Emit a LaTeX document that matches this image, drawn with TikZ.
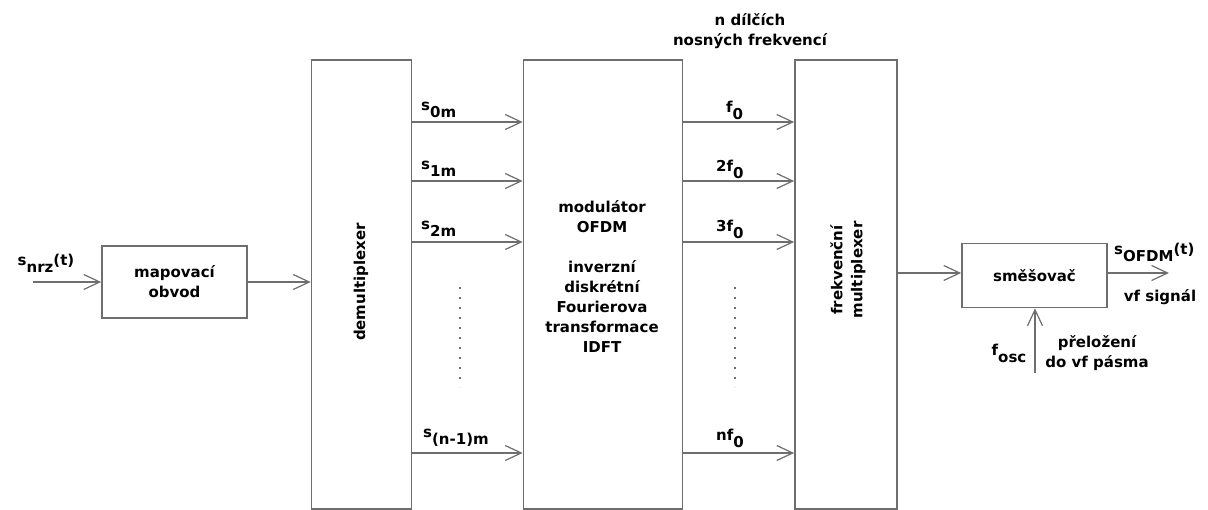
\documentclass[tikz,border=0pt]{standalone}
\usepackage{fontspec}
\setmainfont{DejaVu Sans}[BoldFont=DejaVu Sans Bold]
\usetikzlibrary{arrows.meta}
\definecolor{linegray}{RGB}{110,110,110}
\newcommand\lowsub[1]{\raisebox{-7pt}{#1}}
\begin{document}
\begin{tikzpicture}[x=1pt,y=-1pt,
  box/.style={draw=linegray, line width=1.7pt, inner sep=0pt, align=center,
    font=\fontsize{15}{20}\selectfont\bfseries},
  arr/.style={draw=linegray, line width=1.9pt,
    -{Straight Barb[length=16pt,width=15pt,line width=1.2pt]}},
  lbl/.style={font=\fontsize{15}{20}\selectfont\bfseries, text=black, inner sep=0pt, align=center},
  dots/.style={draw=linegray, line width=2.2pt, dash pattern=on 2.2pt off 7.8pt},
]
\useasboundingbox (0,0) rectangle (1208,510);
% blocks
\node[box, minimum width=145, minimum height=72] (map) at (174.5,282) {mapovací\\obvod};
\node[box, minimum width=100, minimum height=449] (demux) at (361.5,284.5) {};
\node[box, minimum width=159, minimum height=449] (mod) at (603,284.5) {};
\node[box, minimum width=102, minimum height=449] (fmux) at (846,284.5) {};
\node[box, minimum width=145, minimum height=64] (mix) at (1034.5,275.5) {směšovač};
% block texts
\node[lbl, rotate=90] (tdemux) at (361,282) {demultiplexer};
\node[lbl, rotate=90] (tfmux) at (848,270) {frekvenční\\multiplexer};
\node[lbl, anchor=north] (tmod) at (602,200) {modulátor\\OFDM\\[20pt]inverzní\\diskrétní\\Fourierova\\transformace\\IDFT};
% input
\coordinate (in) at (33,282);
\node[lbl] (snrz) at (46,263) {s\lowsub{nrz}(t)};
\draw[arr] (in) -- (map.west |- in);
\draw[arr] (map.east |- in) -- (demux.west |- in);
% rows
\coordinate (r0) at (0,122);
\coordinate (r1) at (0,181);
\coordinate (r2) at (0,242);
\coordinate (r3) at (0,453);
\foreach \r in {r0,r1,r2,r3}{
  \draw[arr] (demux.east |- \r) -- (mod.west |- \r);
  \draw[arr] (mod.east |- \r) -- (fmux.west |- \r);
}
\node[lbl, anchor=west] (s0) at (421,110) {s\lowsub{0m}};
\node[lbl, anchor=west] (s1) at (421,169) {s\lowsub{1m}};
\node[lbl, anchor=west] (s2) at (421,229) {s\lowsub{2m}};
\node[lbl, anchor=west] (sn) at (423,438) {s\lowsub{(n-1)m}};
\node[lbl, anchor=west] (f0) at (726,110) {f\lowsub{0}};
\node[lbl, anchor=west] (f1) at (716,169) {2f\lowsub{0}};
\node[lbl, anchor=west] (f2) at (716,229) {3f\lowsub{0}};
\node[lbl, anchor=west] (fn) at (716,438) {nf\lowsub{0}};
\node[lbl] (top) at (750,31) {n dílčích\\nosných frekvencí};
% dotted
\coordinate (d1a) at (460,287); \coordinate (d1b) at (460,387);
\coordinate (d2a) at (735,287); \coordinate (d2b) at (735,387);
\draw[dots] (d1a) -- (d1b);
\draw[dots] (d2a) -- (d2b);
% right side
\coordinate (out) at (1169,273);
\draw[arr] (fmux.east |- out) -- (mix.west |- out);
\draw[arr] (mix.east |- out) -- (out);
\node[lbl, anchor=west] (sofdm) at (1114,252) {s\lowsub{OFDM}(t)};
\node[lbl] (vf) at (1160,297) {vf signál};
\coordinate (osc) at (1035,373);
\draw[arr] (osc) -- (mix.south -| osc);
\node[lbl] (fosc) at (1009,353) {f\lowsub{osc}};
\node[lbl] (prel) at (1097,353) {přeložení\\do vf pásma};
\end{tikzpicture}
\end{document}
